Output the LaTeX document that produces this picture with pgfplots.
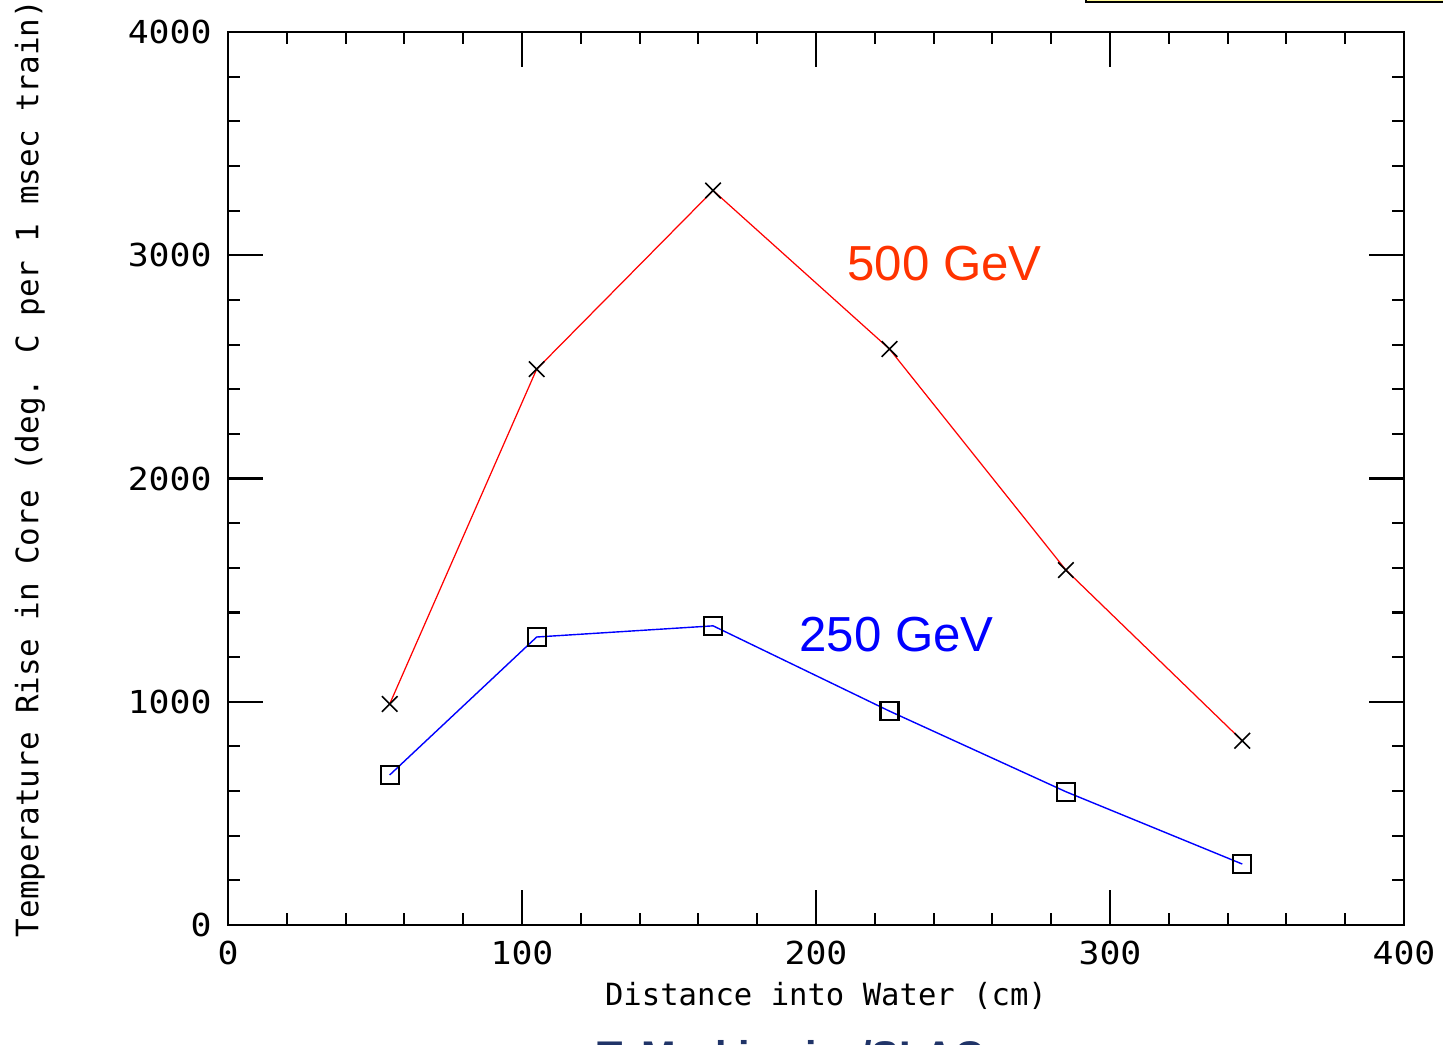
\documentclass[border=0pt]{standalone}
\usepackage{fontspec}
\setmainfont{Liberation Sans}
\newfontfamily\pixfont[FakeStretch=1.1]{DejaVu Sans Mono}
\newfontfamily\pixlab{DejaVu Sans Mono}
\usepackage{pgfplots}
\pgfplotsset{compat=1.18}
\definecolor{lblred}{HTML}{FF3300}
\definecolor{navy}{HTML}{203468}

\begin{document}
\begin{tikzpicture}
\begin{axis}[
  at={(0,0)}, anchor=south west,
  scale only axis,
  width=117.6mm, height=89.3mm,
  xmin=0, xmax=400, ymin=0, ymax=4000,
  xtick={0,100,200,300,400},
  ytick={0,1000,2000,3000,4000},
  minor x tick num=4,
  minor y tick num=4,
  tick align=inside,
  major tick length=3.5mm,
  minor tick length=1.2mm,
  axis line style={line width=0.6pt},
  every tick/.style={black, line width=0.6pt},
  /pgf/number format/assume math mode=true,
  /pgf/number format/set thousands separator={},
  ticklabel style={font=\pixfont\fontsize{9pt}{9pt}\selectfont},
  xticklabel style={yshift=-0.4mm},
  yticklabel style={xshift=-0.4mm},
  xlabel={Distance into Water (cm)},
  ylabel={Temperature Rise in Core (deg. C per 1 msec train)},
  every axis x label/.style={at={(axis description cs:0.5,0)}, anchor=center,
    xshift=1mm, yshift=-7.1mm, font=\pixlab\fontsize{8.7pt}{8.7pt}\selectfont},
  every axis y label/.style={at={(axis description cs:0,0.5)}, anchor=center,
    xshift=-19.8mm, yshift=1mm, rotate=90, font=\pixlab\fontsize{8.8pt}{8.8pt}\selectfont},
  clip=false,
]
% 500 GeV
\addplot[red, line width=0.35pt, mark=x, mark size=1.1mm,
  mark options={black, line width=0.45pt}]
  coordinates {(55,990) (105,2490) (165,3290) (225,2580) (285,1590) (345,825)};
% 250 GeV
\addplot[blue, line width=0.4pt, mark=square, mark size=0.9mm,
  mark options={black, line width=0.6pt}]
  coordinates {(55,672) (105,1290) (165,1340) (225,958) (285,597) (345,273)};

\node[font=\fontsize{14pt}{14pt}\selectfont, text=lblred] at (axis cs:243.7,2965) {500 GeV};
\node[font=\fontsize{14pt}{14pt}\selectfont, text=blue] at (axis cs:227.4,1303) {250 GeV};
\end{axis}
% clipped decorations at the page edges
\draw[black, line width=0.4pt, fill=yellow!40] (85.8mm,92.3mm) rectangle (126mm,96mm);
\node[anchor=base west, inner sep=0pt, text=navy, font=\bfseries\fontsize{11.8pt}{11.8pt}\selectfont]
  at (36.9mm,-14.6mm) {T. Markiewicz/SLAC};
\pgfresetboundingbox
\useasboundingbox (-22.8mm,-12mm) rectangle (121.5mm,92.5mm);
\end{tikzpicture}
\end{document}
